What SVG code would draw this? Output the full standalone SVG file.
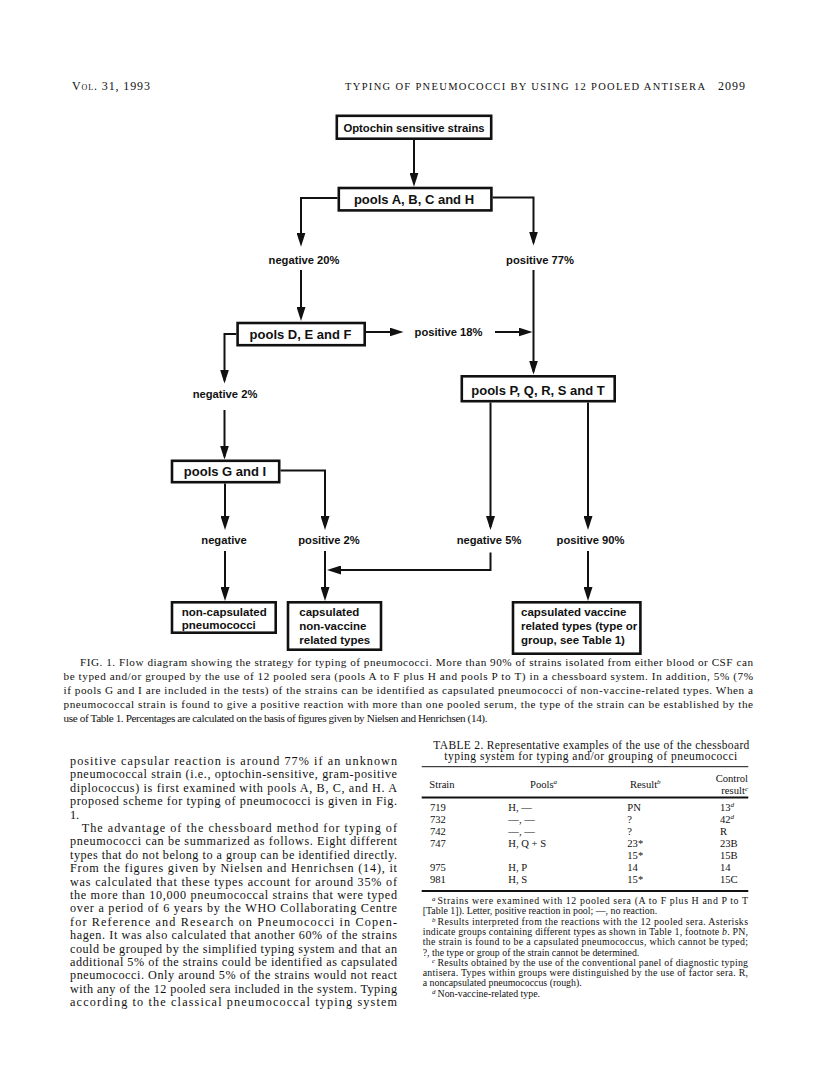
<svg xmlns="http://www.w3.org/2000/svg" width="816" height="1082" viewBox="0 0 816 1082">
<defs>
<marker id="ah" viewBox="0 0 14 9" refX="11" refY="4.5" markerWidth="14" markerHeight="9" markerUnits="userSpaceOnUse" orient="auto">
<path d="M0,0 L14,4.5 L0,9 z" fill="#111"/>
</marker>
<style>
.box{fill:#fff;stroke:#111;stroke-width:2.6}
.bt{font-family:"Liberation Sans",Arial,sans-serif;font-weight:bold;fill:#111}
.bx{font-size:13px;text-anchor:middle}
.lb{font-size:11.2px;text-anchor:middle}
.sm{font-size:11.5px}
.conn{stroke:#111;stroke-width:2;fill:none;marker-end:url(#ah)}
.sf{font-family:"Liberation Serif","Times New Roman",serif;fill:#111}
.body{font-size:12.2px}
.cap{font-size:11.2px}
.tb{font-size:10.6px}
.fn{font-size:9.9px}
.sup{font-size:7px;font-style:italic}
.rule{stroke:#111;fill:none}
</style>
</defs>
<rect width="816" height="1082" fill="#fff"/>

<g id="page-header">
<text class="sf" x="72" y="90" font-size="12" font-variant="small-caps" textLength="78" lengthAdjust="spacing">Vol. 31, 1993</text>
<text class="sf" x="345" y="90" font-size="10.5" textLength="360" lengthAdjust="spacing">TYPING OF PNEUMOCOCCI BY USING 12 POOLED ANTISERA</text>
<text class="sf" x="718" y="90" font-size="12" textLength="27" lengthAdjust="spacing">2099</text>
</g>

<g id="connectors">
<path class="conn" d="M414,140 L414,183.7"/>
<path class="conn" d="M337.5,198 H301 V243.7"/>
<path class="conn" d="M492.7,197.5 H533.5 V242.5"/>
<path class="conn" d="M301,270 V318"/>
<path class="conn" d="M533.5,270 V371.5"/>
<path class="conn" d="M366,332 H400.5"/>
<path class="conn" d="M495,332 H529.5"/>
<path class="conn" d="M236.3,334 H224.5 V380.5"/>
<path class="conn" d="M224.5,410 V456.5"/>
<path class="conn" d="M225,483.5 V527"/>
<path class="conn" d="M280.5,470.5 H325 V527"/>
<path class="conn" d="M225,551 V598"/>
<path class="conn" d="M325,551 V598"/>
<path class="conn" d="M490.5,402.5 V527"/>
<path class="conn" d="M588,402.5 V527"/>
<path class="conn" d="M490.5,552.5 V570 H330"/>
<path class="conn" d="M588,551 V598"/>
</g>

<g id="labels">
<text class="bt lb" x="304" y="263.5">negative 20%</text>
<text class="bt lb" x="540" y="263.5">positive 77%</text>
<text class="bt lb" x="448.5" y="335.7">positive 18%</text>
<text class="bt lb" x="225" y="398">negative 2%</text>
<text class="bt lb" x="224" y="543.5">negative</text>
<text class="bt lb" x="329" y="543.5">positive 2%</text>
<text class="bt lb" x="489" y="544">negative 5%</text>
<text class="bt lb" x="590.5" y="544">positive 90%</text>
</g>

<g id="node-optochin">
<rect class="box" x="336.8" y="115.8" width="154.4" height="22.9"/>
<text class="bt" x="414" y="131.5" font-size="11.3" text-anchor="middle">Optochin sensitive strains</text>
</g>
<g id="node-pools-abch">
<rect class="box" x="338.8" y="188" width="152.6" height="22.4"/>
<text class="bt bx" x="414" y="204">pools A, B, C and H</text>
</g>
<g id="node-pools-def">
<rect class="box" x="237.6" y="323" width="127.1" height="22.2"/>
<text class="bt bx" x="300.5" y="339">pools D, E and F</text>
</g>
<g id="node-pools-gi">
<rect class="box" x="172" y="460.8" width="107.2" height="21.4"/>
<text class="bt bx" x="225" y="475.5">pools G and I</text>
</g>
<g id="node-pools-pqrst">
<rect class="box" x="461.8" y="376.3" width="152.9" height="24.9"/>
<text class="bt bx" x="538" y="394.5">pools P, Q, R, S and T</text>
</g>
<g id="node-noncapsulated">
<rect class="box" x="172" y="602.3" width="103.7" height="30.4"/>
<text class="bt sm" x="181.7" y="615.5">non-capsulated</text>
<text class="bt sm" x="181.7" y="629">pneumococci</text>
</g>
<g id="node-capsulated-nonvaccine">
<rect class="box" x="288" y="602.3" width="93" height="47.4"/>
<text class="bt sm" x="299.3" y="615.5">capsulated</text>
<text class="bt sm" x="299.3" y="629.5">non-vaccine</text>
<text class="bt sm" x="299.3" y="643.5">related types</text>
</g>
<g id="node-capsulated-vaccine">
<rect class="box" x="513" y="602.3" width="127.4" height="51.4"/>
<text class="bt sm" x="521" y="616">capsulated vaccine</text>
<text class="bt sm" x="521" y="630">related types (type or</text>
<text class="bt sm" x="521" y="644">group, see Table 1)</text>
</g>

<g id="caption" class="sf cap">
<text x="80" y="666" textLength="673" lengthAdjust="spacing">FIG. 1. Flow diagram showing the strategy for typing of pneumococci. More than 90% of strains isolated from either blood or CSF can</text>
<text x="63.5" y="680" textLength="689.5" lengthAdjust="spacing">be typed and/or grouped by the use of 12 pooled sera (pools A to F plus H and pools P to T) in a chessboard system. In addition, 5% (7%</text>
<text x="63.5" y="694" textLength="689.5" lengthAdjust="spacing">if pools G and I are included in the tests) of the strains can be identified as capsulated pneumococci of non-vaccine-related types. When a</text>
<text x="63.5" y="708" textLength="689.5" lengthAdjust="spacing">pneumococcal strain is found to give a positive reaction with more than one pooled serum, the type of the strain can be established by the</text>
<text x="63.5" y="722" textLength="424" lengthAdjust="spacing">use of Table 1. Percentages are calculated on the basis of figures given by Nielsen and Henrichsen (14).</text>
</g>

<g id="body-text" class="sf body">
<text x="70" y="765" textLength="327" lengthAdjust="spacing">positive capsular reaction is around 77% if an unknown</text>
<text x="70" y="778.4" textLength="327" lengthAdjust="spacing">pneumococcal strain (i.e., optochin-sensitive, gram-positive</text>
<text x="70" y="791.8" textLength="327" lengthAdjust="spacing">diplococcus) is first examined with pools A, B, C, and H. A</text>
<text x="70" y="805.2" textLength="327" lengthAdjust="spacing">proposed scheme for typing of pneumococci is given in Fig.</text>
<text x="70" y="818.6">1.</text>
<text x="81.7" y="832" textLength="315.3" lengthAdjust="spacing">The advantage of the chessboard method for typing of</text>
<text x="70" y="845.4" textLength="327" lengthAdjust="spacing">pneumococci can be summarized as follows. Eight different</text>
<text x="70" y="858.8" textLength="327" lengthAdjust="spacing">types that do not belong to a group can be identified directly.</text>
<text x="70" y="872.2" textLength="327" lengthAdjust="spacing">From the figures given by Nielsen and Henrichsen (14), it</text>
<text x="70" y="885.6" textLength="327" lengthAdjust="spacing">was calculated that these types account for around 35% of</text>
<text x="70" y="899" textLength="327" lengthAdjust="spacing">the more than 10,000 pneumococcal strains that were typed</text>
<text x="70" y="912.4" textLength="327" lengthAdjust="spacing">over a period of 6 years by the WHO Collaborating Centre</text>
<text x="70" y="925.8" textLength="327" lengthAdjust="spacing">for Reference and Research on Pneumococci in Copen-</text>
<text x="70" y="939.2" textLength="327" lengthAdjust="spacing">hagen. It was also calculated that another 60% of the strains</text>
<text x="70" y="952.6" textLength="327" lengthAdjust="spacing">could be grouped by the simplified typing system and that an</text>
<text x="70" y="966" textLength="327" lengthAdjust="spacing">additional 5% of the strains could be identified as capsulated</text>
<text x="70" y="979.4" textLength="327" lengthAdjust="spacing">pneumococci. Only around 5% of the strains would not react</text>
<text x="70" y="992.8" textLength="327" lengthAdjust="spacing">with any of the 12 pooled sera included in the system. Typing</text>
<text x="70" y="1006.2" textLength="327" lengthAdjust="spacing">according to the classical pneumococcal typing system</text>
</g>

<g id="table-2" class="sf">
<text x="433.3" y="749" font-size="11.5" textLength="316" lengthAdjust="spacing">TABLE 2. Representative examples of the use of the chessboard</text>
<text x="590.7" y="760" font-size="11.5" text-anchor="middle" textLength="293" lengthAdjust="spacing">typing system for typing and/or grouping of pneumococci</text>
<line class="rule" x1="421.7" y1="766.7" x2="748.3" y2="766.7" stroke-width="1"/>
<g class="tb">
<text x="429.3" y="788">Strain</text>
<text x="530" y="788">Pools<tspan class="sup" dy="-4">a</tspan></text>
<text x="630" y="788">Result<tspan class="sup" dy="-4">b</tspan></text>
<text x="748" y="782" text-anchor="end">Control</text>
<text x="748" y="794" text-anchor="end">result<tspan class="sup" dy="-3">c</tspan></text>
</g>
<line class="rule" x1="421.7" y1="797.5" x2="748.3" y2="797.5" stroke-width="1.8"/>
<g class="tb">
<text x="430" y="810.5">719</text><text x="508.3" y="810.5">H, —</text><text x="627.3" y="810.5">PN</text><text x="720" y="810.5">13<tspan class="sup" dy="-4">d</tspan></text>
<text x="430" y="822.5">732</text><text x="508.3" y="822.5">—, —</text><text x="627.3" y="822.5">?</text><text x="720" y="822.5">42<tspan class="sup" dy="-4">d</tspan></text>
<text x="430" y="834.5">742</text><text x="508.3" y="834.5">—, —</text><text x="627.3" y="834.5">?</text><text x="720" y="834.5">R</text>
<text x="430" y="846.5">747</text><text x="508.3" y="846.5">H, Q + S</text><text x="627.3" y="846.5">23*</text><text x="720" y="846.5">23B</text>
<text x="627.3" y="858.5">15*</text><text x="720" y="858.5">15B</text>
<text x="430" y="870.5">975</text><text x="508.3" y="870.5">H, P</text><text x="627.3" y="870.5">14</text><text x="720" y="870.5">14</text>
<text x="430" y="882.5">981</text><text x="508.3" y="882.5">H, S</text><text x="627.3" y="882.5">15*</text><text x="720" y="882.5">15C</text>
</g>
<line class="rule" x1="421.7" y1="891" x2="748.3" y2="891" stroke-width="1.8"/>
<g class="fn">
<text class="sup" x="432" y="901">a</text>
<text x="437.5" y="904" textLength="310.5" lengthAdjust="spacing">Strains were examined with 12 pooled sera (A to F plus H and P to T</text>
<text x="422.7" y="914.3">[Table 1]). Letter, positive reaction in pool; —, no reaction.</text>
<text class="sup" x="432" y="921.6">b</text>
<text x="437.5" y="924.6" textLength="310.5" lengthAdjust="spacing">Results interpreted from the reactions with the 12 pooled sera. Asterisks</text>
<text x="422.7" y="934.9" textLength="325.3" lengthAdjust="spacing">indicate groups containing different types as shown in Table 1, footnote <tspan font-style="italic">b</tspan>. PN,</text>
<text x="422.7" y="945.2" textLength="325.3" lengthAdjust="spacing">the strain is found to be a capsulated pneumococcus, which cannot be typed;</text>
<text x="422.7" y="955.5">?, the type or group of the strain cannot be determined.</text>
<text class="sup" x="432" y="962.8">c</text>
<text x="437.5" y="965.8" textLength="310.5" lengthAdjust="spacing">Results obtained by the use of the conventional panel of diagnostic typing</text>
<text x="422.7" y="976.1" textLength="325.3" lengthAdjust="spacing">antisera. Types within groups were distinguished by the use of factor sera. R,</text>
<text x="422.7" y="986.4">a noncapsulated pneumococcus (rough).</text>
<text class="sup" x="432" y="993.7">d</text>
<text x="437.5" y="996.7">Non-vaccine-related type.</text>
</g>
</g>
</svg>
